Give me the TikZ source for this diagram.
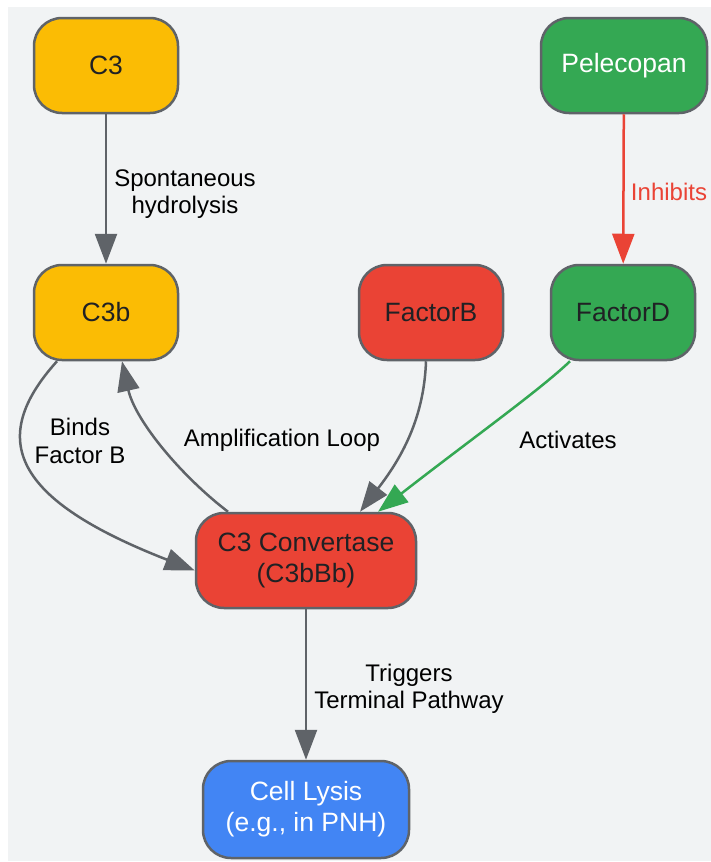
\documentclass[tikz,border=0pt]{standalone}
\usepackage{fontspec}
\setmainfont{Liberation Sans}
\usepackage{tikz}
\usetikzlibrary{arrows.meta,positioning,calc}
\definecolor{bggray}{HTML}{F1F3F4}
\definecolor{edgegray}{HTML}{5F6368}
\definecolor{inkdark}{HTML}{202124}
\definecolor{gyellow}{HTML}{FBBC04}
\definecolor{gred}{HTML}{EA4335}
\definecolor{ggreen}{HTML}{34A853}
\definecolor{gblue}{HTML}{4285F4}
\tikzstyle{box}       = [rectangle, rounded corners=28pt, draw=edgegray, line width=2.5pt, minimum width=144pt, minimum height=95pt, align=center, text=inkdark, font=\fontsize{26.5}{31}\selectfont]
\tikzstyle{lbl}       = [align=center, text=black, font=\fontsize{24}{27.5}\selectfont]
\tikzstyle{arrow}     = [line width=2.5pt, draw=edgegray, -{Triangle[length=30pt,width=22pt]}]

\begin{document}
\begin{tikzpicture}[x=1pt,y=-1pt]
		\useasboundingbox (0,0) rectangle (711,862);
		\fill[bggray] (8,7) rectangle (711,861);

		\node[box, fill=gyellow] (c3) at (106,65.5) {C3};
		\node[box, fill=gyellow] (c3b) at (106,312.5) {C3b};
		\node[box, fill=gred] (factorb) at (431,312.5) {FactorB};
		\node[box, fill=ggreen] (factord) at (623,312.5) {FactorD};
		\node[box, fill=ggreen, minimum width=166pt, text=white] (pelecopan) at (624,65.5) {Pelecopan};
		\node[box, fill=gred, minimum width=220pt] (conv) at (306,560.5) {C3 Convertase\\(C3bBb)};
		\node[box, fill=gblue, minimum width=206pt, minimum height=97pt, text=white] (lysis) at (306,809.5) {Cell Lysis\\(e.g., in PNH)};

		\draw[arrow] (c3) -- (c3b);
		\draw[arrow, draw=gred] (pelecopan) -- (factord);
		\draw[arrow] ([xshift=-49pt]c3b.south) .. controls (-14,440) and (14,500) .. ([yshift=-10pt]conv.west);
		\draw[arrow] ([xshift=-78pt]conv.north) .. controls (180,475) and (135,420) .. ([xshift=16pt]c3b.south);
		\draw[arrow] ([xshift=-5pt]factorb.south) .. controls (424,420) and (400,460) .. ([xshift=54pt]conv.north);
		\draw[arrow, draw=ggreen] ([xshift=-53pt]factord.south) .. controls (540,390) and (470,440) .. ([xshift=72pt]conv.north);
		\draw[arrow] (conv) -- (lysis);

		\node[lbl] (l-hydro) at (185,194) {Spontaneous\\hydrolysis};
		\node[lbl, text=gred] (l-inhib) at (669,192) {Inhibits};
		\node[lbl] (l-binds) at (80,441) {Binds\\Factor B};
		\node[lbl] (l-amp) at (282,440) {Amplification Loop};
		\node[lbl] (l-act) at (568,440) {Activates};
		\node[lbl] (l-trig) at (409,689) {Triggers\\Terminal Pathway};
	\end{tikzpicture}
\end{document}
